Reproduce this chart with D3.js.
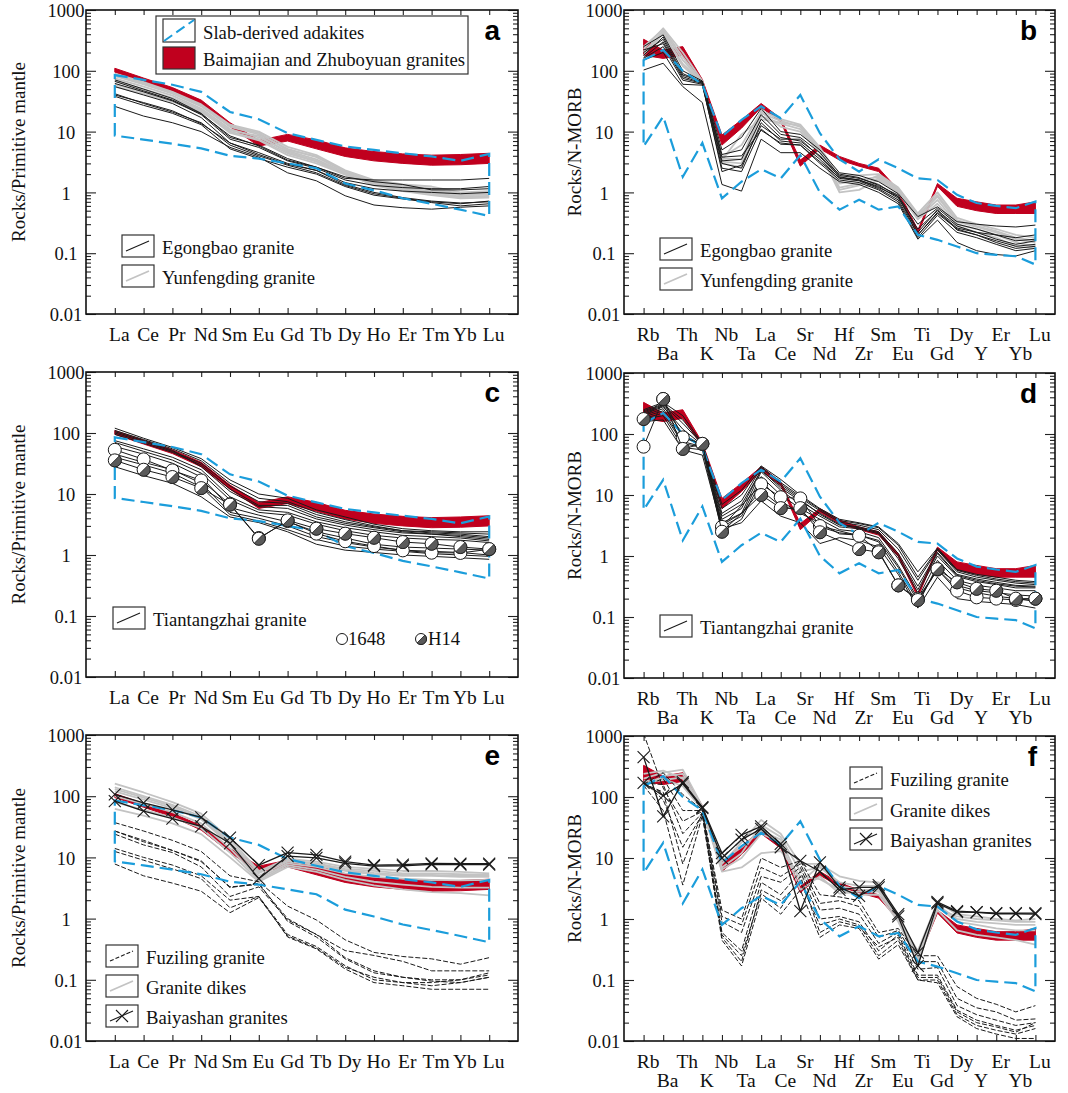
<!DOCTYPE html>
<html><head><meta charset="utf-8">
<script src="https://cdn.jsdelivr.net/npm/d3@7"></script>
<style>body{margin:0;background:#fff}</style>
</head><body>
<svg id="chart" width="1068" height="1093"></svg>
<script>
// ---------- categories & ticks ----------
const REE = ["La","Ce","Pr","Nd","Sm","Eu","Gd","Tb","Dy","Ho","Er","Tm","Yb","Lu"];
const SPIDER = ["Rb","Ba","Th","K","Nb","Ta","La","Ce","Sr","Nd","Hf","Zr","Sm","Eu","Ti","Gd","Dy","Y","Er","Yb","Lu"];
const yTickValues = [1000,100,10,1,0.1,0.01];
const yTickLabels = ["1000","100","10","1","0.1","0.01"];

// ---------- reference fields (REE, primitive mantle normalised) ----------
const adakiteReeUpper = [85,71,59,45,21,16,9.4,7.3,5.7,5.0,4.4,3.9,3.3,4.3];
const adakiteReeLower = [8.6,7.4,6.3,5.3,4.0,3.6,3.0,2.5,1.4,1.08,0.8,0.65,0.52,0.41];
const baimaReeUpper = [110,76,53,33,14,7.2,9.0,7.3,5.4,4.7,4.3,4.1,4.2,4.4];
const baimaReeLower = [95,66,46,28,12,5.8,7.0,5.2,3.9,3.3,3.0,2.8,2.85,3.0];

// ---------- reference fields (spider, N-MORB normalised) ----------
const adakiteSpUpper = [150,220,100,60,8.3,15.6,26,16.6,40,9.4,3.5,2.2,3.5,2.5,1.7,1.6,0.91,0.67,0.6,0.55,0.71];
const adakiteSpLower = [5.7,17.7,1.8,6.5,0.8,1.5,2.4,1.7,4.1,1.0,0.52,0.76,0.52,0.59,0.2,0.166,0.129,0.1,0.094,0.089,0.065];
const baimaSpUpper = [330,220,250,72,8.8,15.6,29,16.5,3.4,6.0,3.9,3.0,2.5,1.1,0.24,1.4,0.8,0.7,0.62,0.62,0.7];
const baimaSpLower = [180,160,180,63,6.0,11.4,25,14.5,2.7,5.2,3.4,2.7,2.2,0.98,0.21,1.25,0.59,0.5,0.45,0.45,0.45];

// ---------- panel a: Egongbao / Yunfengding REE ----------
const egongbaoRee = [
 [71,50,35,20,8,6,3.6,2.6,1.7,1.6,1.6,1.6,1.6,1.7],
 [62,45,32,19,7.5,5.5,3.3,2.5,1.6,1.3,1.2,1.15,1.15,1.25],
 [55,40,29,17,6.5,4.5,3.0,2.3,1.45,1.15,1.05,1.0,0.95,1.0],
 [42,29,21,14,6,4,2.8,2.1,1.3,0.95,0.8,0.7,0.65,0.72],
 [38,27,20,13,5.2,3.6,2.6,2.0,1.25,0.9,0.78,0.68,0.6,0.65],
 [26,18,14,10,5.5,3.8,2.1,1.55,0.88,0.62,0.56,0.53,0.57,0.6],
 [67,47,33,19.5,8.5,5.8,3.4,2.6,1.8,1.5,1.35,1.1,1.1,1.15],
 [40,30,22,13.5,6.5,4.2,2.9,2.3,1.35,1.0,0.82,0.72,0.67,0.7]
];
const yunfengdingRee = [
 [90,65,45,28,13,10,5.6,4.1,2.3,1.6,1.35,1.25,1.0,1.05],
 [82,60,42,26,12,9,5.2,3.8,2.2,1.5,1.3,1.15,0.95,1.0],
 [75,55,39,24,11,8,4.8,3.5,2.1,1.45,1.2,1.05,0.9,0.92],
 [68,50,36,23,10,7.5,4.4,3.2,2.0,1.4,1.15,1.0,0.85,0.88],
 [60,45,33,22,9.5,7.2,4.1,3.0,1.95,1.35,1.1,0.95,0.82,0.85],
 [86,62,44,27,12.5,9.5,5.0,3.9,2.25,1.55,1.25,1.1,0.92,0.95],
 [55,42,31,21,10.5,8.5,4.6,3.3,2.05,1.3,1.05,0.9,0.8,0.82]
];

// ---------- panel b: Egongbao / Yunfengding spider ----------
const egongbaoSp = [
 [250,390,100,68,5,8,24,10,9,5,2.1,1.9,1.5,0.95,0.4,0.58,0.33,0.3,0.28,0.27,0.29],
 [180,360,90,65,4.2,5,19,9,8,4.5,1.9,1.7,1.35,0.85,0.3,0.55,0.3,0.25,0.2,0.18,0.2],
 [165,300,80,63,3.3,3.5,16,8,7,4,1.8,1.6,1.25,0.8,0.25,0.5,0.28,0.22,0.17,0.14,0.16],
 [160,250,70,60,3.0,2.5,14,7,6.5,3.5,1.7,1.55,1.15,0.75,0.2,0.45,0.25,0.2,0.15,0.12,0.13],
 [150,200,60,58,2.5,2.2,11,6.2,6,3,1.6,1.45,1.1,0.7,0.18,0.42,0.22,0.18,0.14,0.11,0.12],
 [103,133,55,30,1.35,1.05,7.5,4.5,4.5,2.5,1.5,1.35,1.0,0.65,0.17,0.35,0.15,0.11,0.095,0.09,0.11],
 [200,330,85,66,3.8,4,10.5,6.5,6,3.2,1.75,1.6,1.2,0.85,0.2,0.47,0.26,0.22,0.2,0.16,0.17],
 [220,280,75,62,2.2,2.8,12.5,7.5,7.5,3.8,2.0,1.75,1.3,0.9,0.22,0.52,0.24,0.2,0.16,0.13,0.14]
];
const yunfengdingSp = [
 [230,500,200,68,3.6,3.5,22,16,13,5.5,1.8,1.9,2.0,1.2,0.45,1.0,0.38,0.3,0.25,0.2,0.18],
 [200,450,150,66,3.2,3,20,15,12,5.2,1.4,1.6,1.8,1.1,0.4,0.85,0.33,0.27,0.22,0.17,0.15],
 [180,420,130,65,3.0,2.6,18,13.5,11,4.8,1.1,1.3,1.7,1.05,0.38,0.75,0.3,0.25,0.2,0.15,0.13],
 [250,480,170,64,3.8,6,21,12,10,4.5,1.0,1.1,1.6,1.0,0.36,0.65,0.28,0.22,0.18,0.13,0.12],
 [210,400,120,62,3.4,9,16,14,12.5,5.0,1.2,1.4,1.9,1.15,0.42,0.9,0.35,0.28,0.23,0.18,0.16]
];

// ---------- panel c: Tiantangzhai REE ----------
const tiantangzhaiRee = [
 [120,82,58,38,17,10,8.5,5.5,4.2,3.2,2.7,2.5,2.4,2.4],
 [110,78,55,35,15,8.5,7.5,5.0,3.8,3.0,2.5,2.4,2.3,2.2],
 [100,72,50,32,13.5,7.5,7.0,4.6,3.5,2.9,2.5,2.3,2.2,2.0],
 [95,68,48,30,12,6.5,6.5,4.2,3.3,2.8,2.4,2.2,2.1,1.9],
 [105,75,52,28,11,6.2,5.8,3.9,3.1,2.6,2.3,2.2,2.0,1.8],
 [75,55,40,25,9,5.5,5.0,3.5,2.8,2.4,2.1,2.0,1.9,1.7],
 [70,50,36,22,8,5,4.5,3.2,2.5,2.1,1.9,1.8,1.75,1.6],
 [60,45,32,19,6,4.5,3.5,2.4,1.9,1.5,1.35,1.3,1.25,1.2],
 [45,33,25,15,5,4,3.0,2.0,1.6,1.35,1.2,1.15,1.1,1.0],
 [40,30,22,13,4.6,3.6,2.6,1.8,1.4,1.25,1.15,1.05,1.0,0.95],
 [28,20,15,9,4.2,3.4,2.4,1.5,1.2,1.1,1.0,0.95,0.9,0.85]
];
const s1648Ree = [53,37,24.4,16.7,6.8,1.9,3.6,2.24,1.68,1.4,1.19,1.09,1.08,1.24];
const h14Ree = [35.6,25,19,12.5,6.7,1.85,3.7,2.7,2.24,1.92,1.63,1.53,1.35,1.25];

// ---------- panel d: Tiantangzhai spider ----------
const tiantangzhaiSp = [
 [250,330,200,70,7,12,30,18,10,6,4,3.5,3,1.6,0.55,1.35,0.6,0.5,0.45,0.4,0.38],
 [230,300,150,68,5,8,28,15,9,5.5,3.6,3.2,2.7,1.3,0.4,1.25,0.55,0.45,0.4,0.36,0.34],
 [210,280,120,66,4,6,26,13,8,5,3.3,3.0,2.5,1.1,0.32,1.15,0.5,0.42,0.37,0.33,0.32],
 [200,260,90,64,3.5,5,24,12,7,4.5,3.0,2.8,2.3,0.9,0.25,1.0,0.46,0.38,0.34,0.3,0.3],
 [190,240,75,62,3.0,4.5,20,10,6,4,2.7,2.5,2.0,0.7,0.2,0.85,0.4,0.33,0.3,0.27,0.27],
 [175,200,60,55,2.5,4,17,8,5,3.5,2.3,2.2,1.7,0.55,0.16,0.7,0.33,0.27,0.25,0.23,0.22],
 [160,170,55,45,2.8,3.5,8,4.5,3.5,1.6,2.0,1.8,1.4,0.5,0.14,0.45,0.2,0.18,0.17,0.16,0.14],
 [240,310,170,69,6,10,29,16,9.5,5.8,3.8,3.4,2.9,1.5,0.45,1.3,0.58,0.48,0.42,0.38,0.36],
 [220,290,100,65,4.5,7,25,14,8.5,4.8,3.2,2.9,2.4,1.0,0.28,1.1,0.48,0.4,0.35,0.32,0.31],
 [180,220,70,60,3.2,5,12,6.5,5.5,3.0,2.4,2.2,1.8,0.65,0.18,0.6,0.3,0.25,0.22,0.2,0.18]
];
const s1648Sp = [62,375,88,69,3.0,null,15,9.2,8.8,3.1,null,2.15,1.2,0.33,0.2,0.6,0.27,0.21,0.2,0.19,0.2];
const h14Sp = [176,375,57,69,2.5,null,10,6.1,6.1,2.45,null,1.3,1.15,0.33,0.19,0.61,0.37,0.29,0.27,0.2,0.2];

// ---------- panel e: Fuziling / dikes / Baiyashan REE ----------
const fuzilingRee = [
 [37,27,19,12.5,5,4,1.6,0.95,0.45,0.28,0.24,0.22,0.18,0.23],
 [27,18,13,8.5,3.3,3.6,1.0,0.55,0.3,0.25,0.2,0.14,0.14,0.14],
 [24,16,12,7,2.3,3.3,0.95,0.55,0.23,0.14,0.11,0.1,0.1,0.13],
 [14,10,7.5,5,2.0,2.3,0.55,0.35,0.17,0.1,0.09,0.08,0.09,0.11],
 [12.5,9,6.5,4.5,1.5,2.3,0.5,0.32,0.15,0.09,0.08,0.07,0.07,0.07],
 [7.8,5,3.8,2.8,1.25,2.2,0.52,0.33,0.16,0.11,0.09,0.09,0.1,0.12],
 [27,19,13,8.8,3.2,3.8,0.9,0.5,0.22,0.13,0.11,0.095,0.09,0.11]
];
const dikesRee = [
 [160,115,80,52,20,6,9.5,8.5,7,6.5,6,6,5.8,5.5],
 [140,100,72,47,18,5.5,9,8,6.5,6,5.5,5.5,5.3,5.2],
 [120,88,64,42,16,5,8.5,7.5,6,5.3,5,5,4.8,4.8],
 [100,75,55,36,14,4.5,8,7,5.5,4.8,4.5,4.3,4.2,4.3],
 [80,60,45,30,12,4.2,7.5,6.3,4.8,4.0,3.6,3.3,3.2,3.2],
 [62,48,36,24,10,4.0,7,5.8,4.3,3.5,3.0,2.7,2.6,2.4],
 [130,95,68,44,17,5.8,8.8,7.8,6.2,5.6,5.2,5.2,5.0,5.0]
];
const baiyashanRee = [
 [107,78,60,45,21,7.5,12,11,8.5,7.5,7.6,8.0,7.9,7.9],
 [83,57,43,32,17,4.5,10.5,9.8,8.0,7.2,7.3,7.7,7.6,7.6]
];

// ---------- panel f: Fuziling / dikes / Baiyashan spider ----------
const fuzilingSp = [
 [160,250,110,62,1.4,1.0,10,7,9,2.5,2.3,2.0,0.6,0.7,0.25,0.25,0.078,0.05,0.04,0.03,0.038],
 [150,200,60,60,1.1,0.8,7,5,8,1.8,2.0,1.6,0.5,0.65,0.2,0.2,0.05,0.035,0.03,0.022,0.023],
 [1100,140,40,58,0.9,0.6,5,4,7,1.4,1.5,1.2,0.4,0.6,0.15,0.16,0.038,0.027,0.022,0.018,0.02],
 [170,160,25,55,0.6,0.3,4,2.5,6,1.0,1.1,0.9,0.3,0.55,0.12,0.12,0.032,0.022,0.018,0.015,0.018],
 [180,90,15,52,0.5,0.2,3,2,4,0.8,1.0,0.8,0.25,0.45,0.1,0.1,0.027,0.018,0.015,0.013,0.016],
 [155,60,3.6,50,0.45,0.17,2.2,1.2,3,0.5,0.8,0.7,0.22,0.38,0.1,0.09,0.025,0.016,0.013,0.011,0.011],
 [165,120,8,56,0.55,0.25,2.6,1.5,5,0.6,0.9,0.75,0.35,0.5,0.11,0.11,0.03,0.02,0.017,0.014,0.02]
];
const dikesSp = [
 [200,250,280,70,8,18,42,25,8,8,5,4.2,4,1.0,0.3,1.9,1.2,1.1,1.0,0.95,1.0],
 [150,220,240,65,7,12,35,22,6,7,4,3.5,3.5,0.95,0.25,1.7,1.0,0.9,0.85,0.8,0.8],
 [180,200,150,62,6,7,12,13,5,4.5,3,2.5,2.5,0.9,0.2,1.4,0.65,0.55,0.5,0.45,0.38],
 [240,270,200,68,9,15,28,20,4,7.5,3.5,3.0,3.0,1.05,0.22,1.6,0.9,0.8,0.7,0.65,0.65],
 [170,190,210,64,6.5,10,25,18,3,5,2.6,2.8,2.8,1.0,0.28,1.5,1.1,1.0,0.95,0.9,0.9]
];
const baiyashanSp = [
 [450,48,175,68,12,24,33,17,1.35,8.5,3.3,2.4,3.6,1.2,0.28,1.9,1.35,1.3,1.25,1.25,1.25],
 [170,105,165,66,10,20,30,15,9,6,3.0,3.3,3.3,1.1,0.17,1.8,1.3,1.28,1.22,1.22,1.2]
];

// ---------- styling ----------
const SERIF = "'Liberation Serif','Times New Roman',serif";
const SANS = "'Liberation Sans',Arial,sans-serif";
const BLUE = "#1b9ddb", RED = "#c0001e", GREY = "#c3c3c3", BLACK = "#1a1a1a";
const svg = d3.select("#chart");

const panels = [
 {id:"a", type:"ree", x0:86, x1:518, y0:10, y1:314, titleX:25},
 {id:"b", type:"sp", x0:624, x1:1055, y0:10, y1:314, titleX:581},
 {id:"c", type:"ree", x0:86, x1:518, y0:372, y1:677, titleX:25},
 {id:"d", type:"sp", x0:624, x1:1055, y0:373, y1:678, titleX:581},
 {id:"e", type:"ree", x0:86, x1:518, y0:735, y1:1041, titleX:25},
 {id:"f", type:"sp", x0:624, x1:1055, y0:736, y1:1041, titleX:581}
];

function makePanel(cfg){
  const cats = cfg.type==="ree" ? REE : SPIDER;
  const x = d3.scalePoint().domain(cats).range([cfg.x0,cfg.x1]).padding(1);
  const y = d3.scaleLog().domain([0.01,1000]).range([cfg.y1,cfg.y0]);
  const g = svg.append("g");
  const clipId = "clip-"+cfg.id;
  svg.append("clipPath").attr("id",clipId).append("rect")
    .attr("x",cfg.x0).attr("y",cfg.y0).attr("width",cfg.x1-cfg.x0).attr("height",cfg.y1-cfg.y0);
  const plot = g.append("g").attr("clip-path",`url(#${clipId})`);
  const P = vals => vals.map((v,i)=>({k:cats[i],v})).filter(d=>d.v!=null);
  const line = d3.line().x(d=>x(d.k)).y(d=>y(d.v));
  return {cfg,cats,x,y,g,plot,P,line};
}

function drawBand(c, hi, lo){
  const data = c.cats.map((k,i)=>({k,hi:hi[i],lo:lo[i]}));
  const area = d3.area().x(d=>c.x(d.k)).y0(d=>c.y(d.lo)).y1(d=>c.y(d.hi));
  c.plot.append("path").attr("d",area(data)).attr("fill",RED).attr("stroke",RED).attr("stroke-width",1);
}
function drawField(c, up, lo){
  const pts = c.P(up).concat(c.P(lo).reverse());
  c.plot.append("path").attr("d",c.line(pts)+"Z").attr("fill","none")
    .attr("stroke",BLUE).attr("stroke-width",2.2).attr("stroke-dasharray","13,6");
}
function drawLines(c, arr, color, width, dash){
  c.plot.append("g").selectAll("path").data(arr).join("path")
    .attr("d",d=>c.line(c.P(d))).attr("fill","none").attr("stroke",color)
    .attr("stroke-width",width).attr("stroke-dasharray",dash||null).attr("stroke-linejoin","round");
}
function drawX(c, arr){
  drawLines(c, arr, BLACK, 1.3);
  arr.forEach(s=>{
    c.plot.append("g").selectAll("path").data(c.P(s)).join("path")
      .attr("transform",d=>`translate(${c.x(d.k)},${c.y(d.v)})`)
      .attr("d","M-6,-6L6,6M-6,6L6,-6").attr("stroke",BLACK).attr("stroke-width",1.1);
  });
}
function halfPath(r){ const a=r*Math.SQRT1_2; return `M${a},${-a}A${r},${r} 0 0 1 ${-a},${a}Z`; }
function drawCircles(c, vals, half){
  const r = 6.5;
  drawLines(c,[vals],BLACK,1);
  const gg = c.plot.append("g").selectAll("g").data(c.P(vals)).join("g")
    .attr("transform",d=>`translate(${c.x(d.k)},${c.y(d.v)})`);
  gg.append("circle").attr("r",r).attr("fill","#fff").attr("stroke",BLACK).attr("stroke-width",1);
  if(half){
    gg.append("path").attr("d",halfPath(r)).attr("fill","#5a5a5a").attr("stroke",BLACK).attr("stroke-width",0.8);
  }
}

function drawAxes(c){
  const {cfg,x,y,g} = c;
  const minor = [];
  for(let e=-2;e<3;e++) for(let m=2;m<10;m++) minor.push(m*Math.pow(10,e));
  const style = s => s.call(a=>a.select(".domain").remove()).selectAll("line").attr("stroke","#222").attr("stroke-width",1.1);
  g.append("g").attr("transform",`translate(${cfg.x0},0)`)
    .call(d3.axisLeft(y).tickValues(minor).tickSize(-5).tickFormat("")).call(style);
  g.append("g").attr("transform",`translate(${cfg.x1},0)`)
    .call(d3.axisRight(y).tickValues(minor).tickSize(-5).tickFormat("")).call(style);
  g.append("g").attr("transform",`translate(${cfg.x1},0)`)
    .call(d3.axisRight(y).tickValues(yTickValues).tickSize(-10).tickFormat("")).call(style);
  const left = g.append("g").attr("transform",`translate(${cfg.x0},0)`)
    .call(d3.axisLeft(y).tickValues(yTickValues).tickSize(-10).tickFormat((d,i)=>yTickLabels[i]));
  left.call(style);
  left.selectAll("text").attr("x",-20).attr("dy","0.36em").attr("text-anchor","middle")
    .attr("font-family",SERIF).attr("font-size",18.5).attr("fill","#111");
  g.append("g").attr("transform",`translate(0,${cfg.y0})`)
    .call(d3.axisTop(x).tickSize(-5).tickFormat("")).call(style);
  const bot = g.append("g").attr("transform",`translate(0,${cfg.y1})`)
    .call(d3.axisBottom(x).tickSize(-6));
  bot.call(style);
  bot.selectAll("text").attr("dy",null).attr("dx",4)
    .attr("y",(d,i)=> cfg.type==="ree" ? 27 : (i%2===0 ? 27 : 46))
    .attr("font-family",SERIF).attr("font-size",19.5).attr("fill","#111");
  g.append("rect").attr("x",cfg.x0).attr("y",cfg.y0).attr("width",cfg.x1-cfg.x0).attr("height",cfg.y1-cfg.y0)
    .attr("fill","none").attr("stroke","#111").attr("stroke-width",1.6);
  const mid = (cfg.y0+cfg.y1)/2 - 10;
  g.append("text").attr("transform",`translate(${cfg.titleX},${mid}) rotate(-90)`)
    .attr("text-anchor","middle").attr("font-family",SERIF).attr("font-size",19).attr("fill","#111")
    .text(cfg.type==="ree" ? "Rocks/Primitive mantle" : "Rocks/N-MORB");
  g.append("text").attr("x",cfg.x1-18).attr("y",cfg.y0+30).attr("text-anchor","end")
    .attr("font-family",SANS).attr("font-weight","bold").attr("font-size",28).attr("fill","#000")
    .text(cfg.id);
}

// ---------- legends ----------
function legBox(x,y,kind,label,w=32,h=22){
  const g = svg.append("g");
  g.append("rect").attr("x",x).attr("y",y).attr("width",w).attr("height",h)
    .attr("fill", kind==="red" ? RED : "#fff").attr("stroke","#333").attr("stroke-width",1.2);
  if(kind==="blue"){
    g.append("line").attr("x1",x+1).attr("y1",y+h-1).attr("x2",x+w-1).attr("y2",y+1)
      .attr("stroke",BLUE).attr("stroke-width",2).attr("stroke-dasharray","10,5");
  } else if(kind!=="red"){
    const col = kind==="grey" ? GREY : BLACK;
    g.append("line").attr("x1",x+4).attr("y1",y+h-6).attr("x2",x+w-5).attr("y2",y+6)
      .attr("stroke",col).attr("stroke-width",kind==="grey"?1.8:1.1)
      .attr("stroke-dasharray",kind==="dash"?"4,2":null);
    if(kind==="x"){
      const cx=x+w/2, cy=y+h/2;
      g.append("path").attr("d",`M${cx-6},${cy-6}L${cx+6},${cy+6}M${cx-6},${cy+6}L${cx+6},${cy-6}`)
        .attr("stroke",BLACK).attr("stroke-width",1.1);
    }
  }
  g.append("text").attr("x",x+w+8).attr("y",y+h-3).attr("font-family",SERIF).attr("font-size",18.7)
    .attr("fill","#111").text(label);
}

// ---------- draw panels ----------
const [pa,pb,pc,pd,pe,pf] = panels.map(makePanel);

// a
drawBand(pa, baimaReeUpper, baimaReeLower);
drawLines(pa, yunfengdingRee, GREY, 1.8);
drawLines(pa, egongbaoRee, BLACK, 1);
drawField(pa, adakiteReeUpper, adakiteReeLower);
// b
drawBand(pb, baimaSpUpper, baimaSpLower);
drawLines(pb, yunfengdingSp, GREY, 1.8);
drawLines(pb, egongbaoSp, BLACK, 1);
drawField(pb, adakiteSpUpper, adakiteSpLower);
// c
drawBand(pc, baimaReeUpper, baimaReeLower);
drawLines(pc, tiantangzhaiRee, BLACK, 1);
drawField(pc, adakiteReeUpper, adakiteReeLower);
drawCircles(pc, s1648Ree, false);
drawCircles(pc, h14Ree, true);
// d
drawBand(pd, baimaSpUpper, baimaSpLower);
drawLines(pd, tiantangzhaiSp, BLACK, 1);
drawField(pd, adakiteSpUpper, adakiteSpLower);
drawCircles(pd, s1648Sp, false);
drawCircles(pd, h14Sp, true);
// e
drawBand(pe, baimaReeUpper, baimaReeLower);
drawLines(pe, dikesRee, GREY, 1.8);
drawLines(pe, fuzilingRee, BLACK, 1, "5,2");
drawField(pe, adakiteReeUpper, adakiteReeLower);
drawX(pe, baiyashanRee);
// f
drawBand(pf, baimaSpUpper, baimaSpLower);
drawLines(pf, dikesSp, GREY, 1.8);
drawLines(pf, fuzilingSp, BLACK, 1, "5,2");
drawField(pf, adakiteSpUpper, adakiteSpLower);
drawX(pf, baiyashanSp);

[pa,pb,pc,pd,pe,pf].forEach(drawAxes);

// legend a
svg.append("rect").attr("x",156).attr("y",16).attr("width",312).attr("height",58)
  .attr("fill","#fff").attr("stroke","#333").attr("stroke-width",1.2);
legBox(163,19,"blue","Slab-derived adakites",32,23);
legBox(163,47,"red","Baimajian and Zhuboyuan granites",32,22);
legBox(122,235,"black","Egongbao granite");
legBox(122,265,"grey","Yunfengding granite");
// legend b
legBox(660,238,"black","Egongbao granite");
legBox(660,268,"grey","Yunfengding granite");
// legend c
legBox(113,607,"black","Tiantangzhai granite");
svg.append("circle").attr("cx",342).attr("cy",639).attr("r",5.5).attr("fill","#fff").attr("stroke",BLACK);
svg.append("text").attr("x",348).attr("y",645).attr("font-family",SERIF).attr("font-size",18.7).attr("fill","#111").text("1648");
const hl = svg.append("g").attr("transform","translate(421,639)");
hl.append("circle").attr("r",5.5).attr("fill","#fff").attr("stroke",BLACK);
hl.append("path").attr("d",halfPath(5.5)).attr("fill","#5a5a5a").attr("stroke",BLACK).attr("stroke-width",0.8);
svg.append("text").attr("x",428).attr("y",645).attr("font-family",SERIF).attr("font-size",18.7).attr("fill","#111").text("H14");
// legend d
legBox(660,615,"black","Tiantangzhai granite");
// legend e
legBox(106,945,"dash","Fuziling granite");
legBox(106,975,"grey","Granite dikes");
legBox(106,1005,"x","Baiyashan granites");
// legend f
legBox(850,767,"dash","Fuziling granite");
legBox(850,798,"grey","Granite dikes");
legBox(850,828,"x","Baiyashan granites");
</script>
</body></html>
